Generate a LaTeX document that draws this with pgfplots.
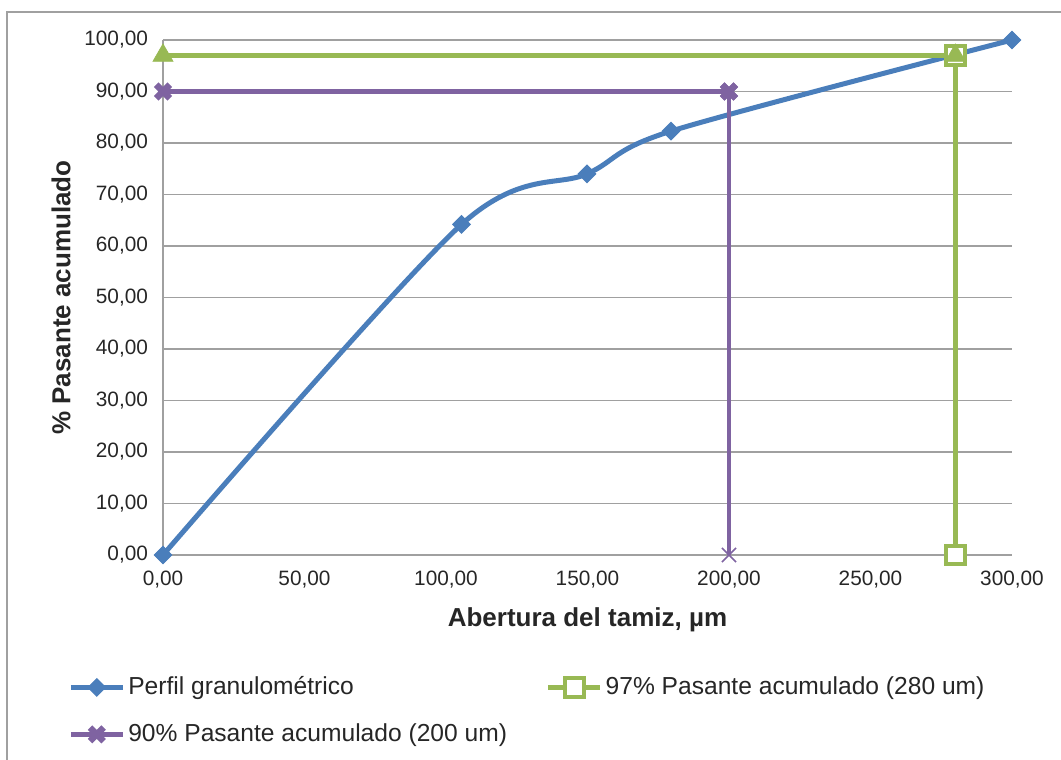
\documentclass[border=0pt]{standalone}
\usepackage{pgfplots}
\pgfplotsset{compat=1.18}
\usepackage{fontspec}
\setmainfont{Liberation Sans}
\definecolor{cblue}{HTML}{4A7EBB}
\definecolor{cgreen}{HTML}{98B954}
\definecolor{cpurple}{HTML}{7F63A1}
\definecolor{cgrid}{HTML}{A0A0A0}
\begin{document}
\begin{tikzpicture}
\useasboundingbox (0,0) rectangle (530.5pt,-380pt);
\draw[cgrid, line width=0.75pt] (3.5pt,-380pt) -- (3.5pt,-6pt) -- (530.5pt,-6pt);
\begin{axis}[
  at={(81.5pt,-277.5pt)}, anchor=south west,
  scale only axis, width=424.5pt, height=257.5pt,
  xmin=0, xmax=300, ymin=0, ymax=100,
  xtick={0,50,...,300}, ytick={0,10,...,100},
  axis lines*=left,
  axis line style={cgrid, line width=0.75pt},
  ymajorgrids, grid style={cgrid, line width=0.75pt},
  major tick length=0pt,
  clip=false,
  tick label style={font=\fontsize{10.4}{12}\selectfont, text=black!85},
  /pgf/number format/fixed,
  /pgf/number format/fixed zerofill,
  /pgf/number format/precision=2,
  /pgf/number format/use comma,
  /pgf/number format/assume math mode=true,
  xticklabel style={yshift=-4.5pt},
  yticklabel style={xshift=-4pt},
  xlabel={Abertura del tamiz, µm},
  ylabel={\% Pasante acumulado},
  label style={font=\bfseries\fontsize{13}{15}\selectfont, text=black!85},
  xlabel style={yshift=-3pt},
  ylabel style={yshift=0pt},
  legend columns=2,
  legend cell align=left,
  legend style={at={(-0.112,-0.230)}, anchor=north west, draw=none, fill=none,
    font=\fontsize{12.3}{15}\selectfont, text=black!85,
    /tikz/every even column/.append style={column sep=18pt},
    row sep=10pt, inner sep=0pt, nodes={inner sep=1.5pt}},
  legend image code/.code={\draw[mark repeat=2,mark phase=2,#1] plot coordinates {(0pt,0pt) (13pt,0pt) (26pt,0pt)};},
]
% Perfil granulometrico
\addplot[cblue, line width=2.5pt, smooth, mark=square*, mark size=3.1pt,
  mark options={rotate=45, solid, fill=cblue, line width=0.5pt}]
  coordinates {(0,0) (105.5,64.2) (149.8,74.0) (179.5,82.3) (300,100)};
\addlegendentry{Perfil granulométrico}
% 97% vertical (squares)
\addplot[cgreen, line width=2.3pt, mark=square*, mark size=4.6pt,
  mark options={fill=white, draw=cgreen, line width=2pt}]
  coordinates {(280,97) (280,0)};
\addlegendentry{97\% Pasante acumulado (280 um)}
% 90% horizontal (thick x)
\addplot[cpurple, line width=2.3pt, mark=x, mark size=4.8pt,
  mark options={line width=3.2pt}]
  coordinates {(0,90) (200,90)};
\addlegendentry{90\% Pasante acumulado (200 um)}
% 90% vertical
\addplot[cpurple, line width=2.3pt, forget plot] coordinates {(200,90) (200,0)};
\addplot[cpurple, only marks, mark=x, mark size=5pt, mark options={line width=0.8pt}, forget plot]
  coordinates {(200,0)};
\addplot[cpurple, only marks, mark=x, mark size=4.8pt, mark options={line width=3.2pt}, forget plot]
  coordinates {(200,90)};
% 97% horizontal (triangles)
\addplot[cgreen, line width=2.3pt, mark=triangle*, mark size=5.8pt,
  mark options={fill=cgreen, draw=cgreen, line width=0.3pt}, forget plot]
  coordinates {(0,97) (280,97)};
\end{axis}
\end{tikzpicture}
\end{document}
